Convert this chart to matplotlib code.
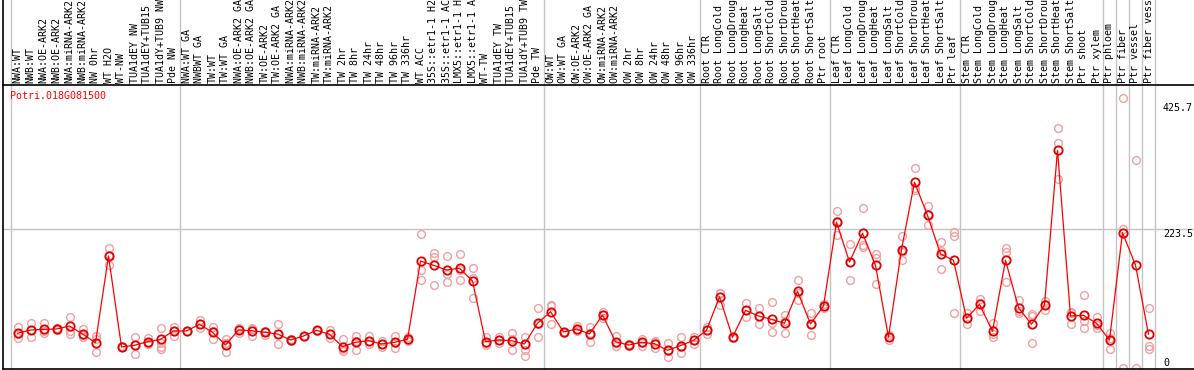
import numpy as np
import matplotlib
matplotlib.use("Agg")
import matplotlib.pyplot as plt
from matplotlib.lines import Line2D

gene = "Potri.018G081500"

labels = [
    "NWA:WT", "NWB:WT", "NWA:OE-ARK2", "NWB:OE-ARK2", "NWA:miRNA-ARK2", "NWB:miRNA-ARK2",
    "NW 0hr", "WT H2O", "WT-NW", "TUA1dEY NW", "TUA1dEY+TUB15 NW", "TUA1dY+TUB9 NW", "Pde NW",
    "NWA:WT GA", "NWBWT GA", "TW:WT", "TW:WT GA", "NWA:OE-ARK2 GA", "NWB:OE-ARK2 GA",
    "TW:OE-ARK2", "TW:OE-ARK2 GA", "NWA:miRNA-ARK2 GA", "NWB:miRNA-ARK2 GA", "TW:miRNA-ARK2",
    "TW:miRNA-ARK2 GA", "TW 2hr", "TW 8hr", "TW 24hr", "TW 48hr", "TW 96hr", "TW 336hr",
    "WT ACC", "35S::etr1-1 H2O", "35S::etr1-1 ACC", "LMX5::etr1-1 H2O", "LMX5::etr1-1 ACC",
    "WT-TW", "TUA1dEY TW", "TUA1dEY+TUB15 TW", "TUA1dY+TUB9 TW", "Pde TW",
    "OW:WT", "OW:WT GA", "OW:OE-ARK2", "OW:OE-ARK2 GA", "OW:miRNA-ARK2", "OW:miRNA-ARK2 GA",
    "OW 2hr", "OW 8hr", "OW 24hr", "OW 48hr", "OW 96hr", "OW 336hr",
    "Root CTR", "Root LongCold", "Root LongDrought", "Root LongHeat", "Root LongSalt",
    "Root ShortCold", "Root ShortDrought", "Root ShortHeat", "Root ShortSalt", "Ptr root",
    "Leaf CTR", "Leaf LongCold", "Leaf LongDrought", "Leaf LongHeat", "Leaf LongSalt",
    "Leaf ShortCold", "Leaf ShortDrought", "Leaf ShortHeat", "Leaf ShortSalt", "Ptr leaf",
    "Stem CTR", "Stem LongCold", "Stem LongDrought", "Stem LongHeat", "Stem LongSalt",
    "Stem ShortCold", "Stem ShortDrought", "Stem ShortHeat", "Stem ShortSalt", "Ptr shoot",
    "Ptr xylem", "Ptr phloem", "Ptr fiber", "Ptr vessel", "Ptr fiber vessel",
]

# mean expression per sample
means = [
    55.8, 61.1, 62.2, 62.7, 67.5, 54.7, 40.7, 180.0, 33.8, 36.5, 42.3, 46.1, 59.5,
    59.5, 70.3, 57.4, 37.0, 61.1, 60.0, 57.4, 54.7, 45.0, 51.4, 60.6, 54.2, 34.2,
    41.3, 43.9, 38.6, 41.3, 46.1, 172.0, 165.1, 157.6, 160.3, 139.9, 42.3, 45.0,
    43.9, 38.6, 71.9,
    90.5, 57.9, 62.7, 54.7, 85.2, 42.3, 37.0, 41.3, 39.1, 28.5, 35.9, 44.5,
    60.6, 114.6, 49.4, 92.8, 83.6, 78.3, 71.9, 123.3, 70.7, 99.7,
    234.4, 170.4, 216.7, 165.1, 49.5, 190.5, 298.6, 245.5, 183.4, 173.2,
    79.9, 102.4, 59.0, 173.2, 96.9, 70.3, 101.3, 350.0, 83.6, 84.7, 71.9,
    45.0, 217.5, 165.6, 54.2,
]

# individual replicates
reps = [
    [66.4, 47.7, 55], [72.8, 49.4, 61], [71.9, 56.8, 60], [63, 61, 64], [81.5, 59.5, 54.2],
    [62.2, 53.1, 50], [51.4, 46.1, 25.2], [192.4, 165.6, 182], [34, 33, 35], [49.4, 22.5, 37],
    [48.7, 38.6, 40], [63.8, 40.7, 34.2, 30.1], [66.4, 51.4, 60],
    [59, 60, 60], [77.2, 63.8, 70], [66.4, 46.1, 60], [46.1, 25.2, 40], [63.8, 56.8, 62],
    [64.8, 51.9, 62], [60, 53.1, 58], [70.7, 38.1, 55], [45, 44, 46], [51, 52, 51],
    [60, 61, 61], [61.1, 47.7, 54], [46.1, 27.3, 30], [51.4, 28.5, 43], [51.4, 38.1, 43],
    [33.3, 43.9, 38], [51.9, 32.6, 40], [50.3, 45, 43],
    [215.4, 157.6, 141.5], [184.4, 178.9, 133.4], [180.1, 151.1, 138.3], [182.8, 141.5, 158],
    [160.3, 144.2, 112.1], [50.3, 37, 40], [50.3, 40.7, 45], [56.3, 28.9, 46],
    [50.3, 28.9, 19.3, 38], [96, 49.4, 70],
    [101.3, 70.3, 99], [58, 57, 58], [68, 61.1, 60], [65.4, 42.3, 56], [90.5, 79.9, 85],
    [51.4, 35.4, 40], [38, 36, 37], [47.1, 35.4, 41], [42.3, 31.7, 43], [39.7, 17.2, 28],
    [49.4, 24.6, 34], [38.6, 50, 45],
    [66.4, 54.7, 61], [121.1, 101.3, 120], [50, 49, 49], [104, 81.5, 93], [96, 70.7, 84],
    [105.6, 71.9, 58.4], [85.2, 55.8, 75], [141, 109.3, 120], [87.9, 52.6, 71],
    [96, 103.4, 100],
    [252.2, 213.7, 237], [199.2, 141.2, 171], [256.8, 195, 198], [183.1, 134.9, 177],
    [45, 53, 50], [212.2, 173.6, 186], [321, 288.9, 286], [260.5, 229.6, 247],
    [203, 158.7, 188], [219.1, 213, 87.9],
    [87.9, 70.3, 81], [110.5, 91.6, 105], [71.9, 50.3, 55], [192.4, 186.5, 138.7],
    [109.3, 88.9, 92], [86.8, 39.7, 84], [108.2, 93.2, 103], [385.4, 361.3, 303.4],
    [90.5, 70.3, 89], [117.4, 75.6, 63.8], [82.5, 63.8, 69],
    [55.8, 30.1, 49], [223.0, 433.6, 0.0], [334.4, 0.0], [96, 35.4, 30.1],
]

group_edges = [0, 13, 41, 53, 63, 73, 84, 85, 86, 87, 88]
ytick_vals = [0, 223.5, 425.7]

W, H = 1194, 370
fig = plt.figure(figsize=(W / 100, H / 100), dpi=100)
ax = fig.add_axes([2.5 / W, 1 / H, 1 - 2.5 / W, 284 / H])
mono = "DejaVu Sans Mono"
fs = 7.2

x = np.arange(len(means))
grey = "#c4c4c4"

# group dividers, run up through the label band
for e in group_edges:
    ax.axvline(e - 0.5, ymin=0, ymax=1.31, color=grey, lw=1.0, clip_on=False, zorder=1)
ax.axhline(223.5, color=grey, lw=1.0, zorder=1)

# replicates
for i, r in enumerate(reps):
    ax.plot([i] * len(r), r, ls="none", marker="o", ms=5.6, mfc="none",
            mec="#f0a0a0", mew=1.0, zorder=2)

# means
ax.plot(x, means, color="#ff0000", lw=0.9, marker="o", ms=6.0, mfc="none",
        mec="#e00000", mew=1.3, zorder=3)

ax.set_xlim(-15 / 13, (W - 17.5) / 13)
ax.set_ylim(-1.6, 455)
ax.set_xticks([])
ax.set_yticks([])
for s in ["left", "top", "bottom"]:
    ax.spines[s].set_color("black")
    ax.spines[s].set_linewidth(1.2)
ax.spines["right"].set_visible(False)

# left border continues through the label band
fig.add_artist(Line2D([2.5 / W, 2.5 / W], [285 / H, 1.0], color="black", lw=1.2))

# sample labels
for i, lab in enumerate(labels):
    ax.text(i, 1.007, lab, rotation=90, ha="center", va="bottom",
            transform=ax.get_xaxis_transform(), family=mono, fontsize=fs,
            color="black", clip_on=False)

# value labels on the right
tr = ax.get_yaxis_transform()
rx = (1163 - 2.5) / (W - 2.5)
for v in ytick_vals:
    txt = "0" if v == 0 else str(v)
    ax.text(rx, v, txt, ha="left", va="bottom" if v == 0 else "top",
            transform=tr, family=mono, fontsize=fs, color="black")

fig.text(10 / W, 1 - 96 / H, gene, ha="left", va="center", family=mono,
         fontsize=fs, color="#ff0000")

fig.savefig("out.png", dpi=100)
